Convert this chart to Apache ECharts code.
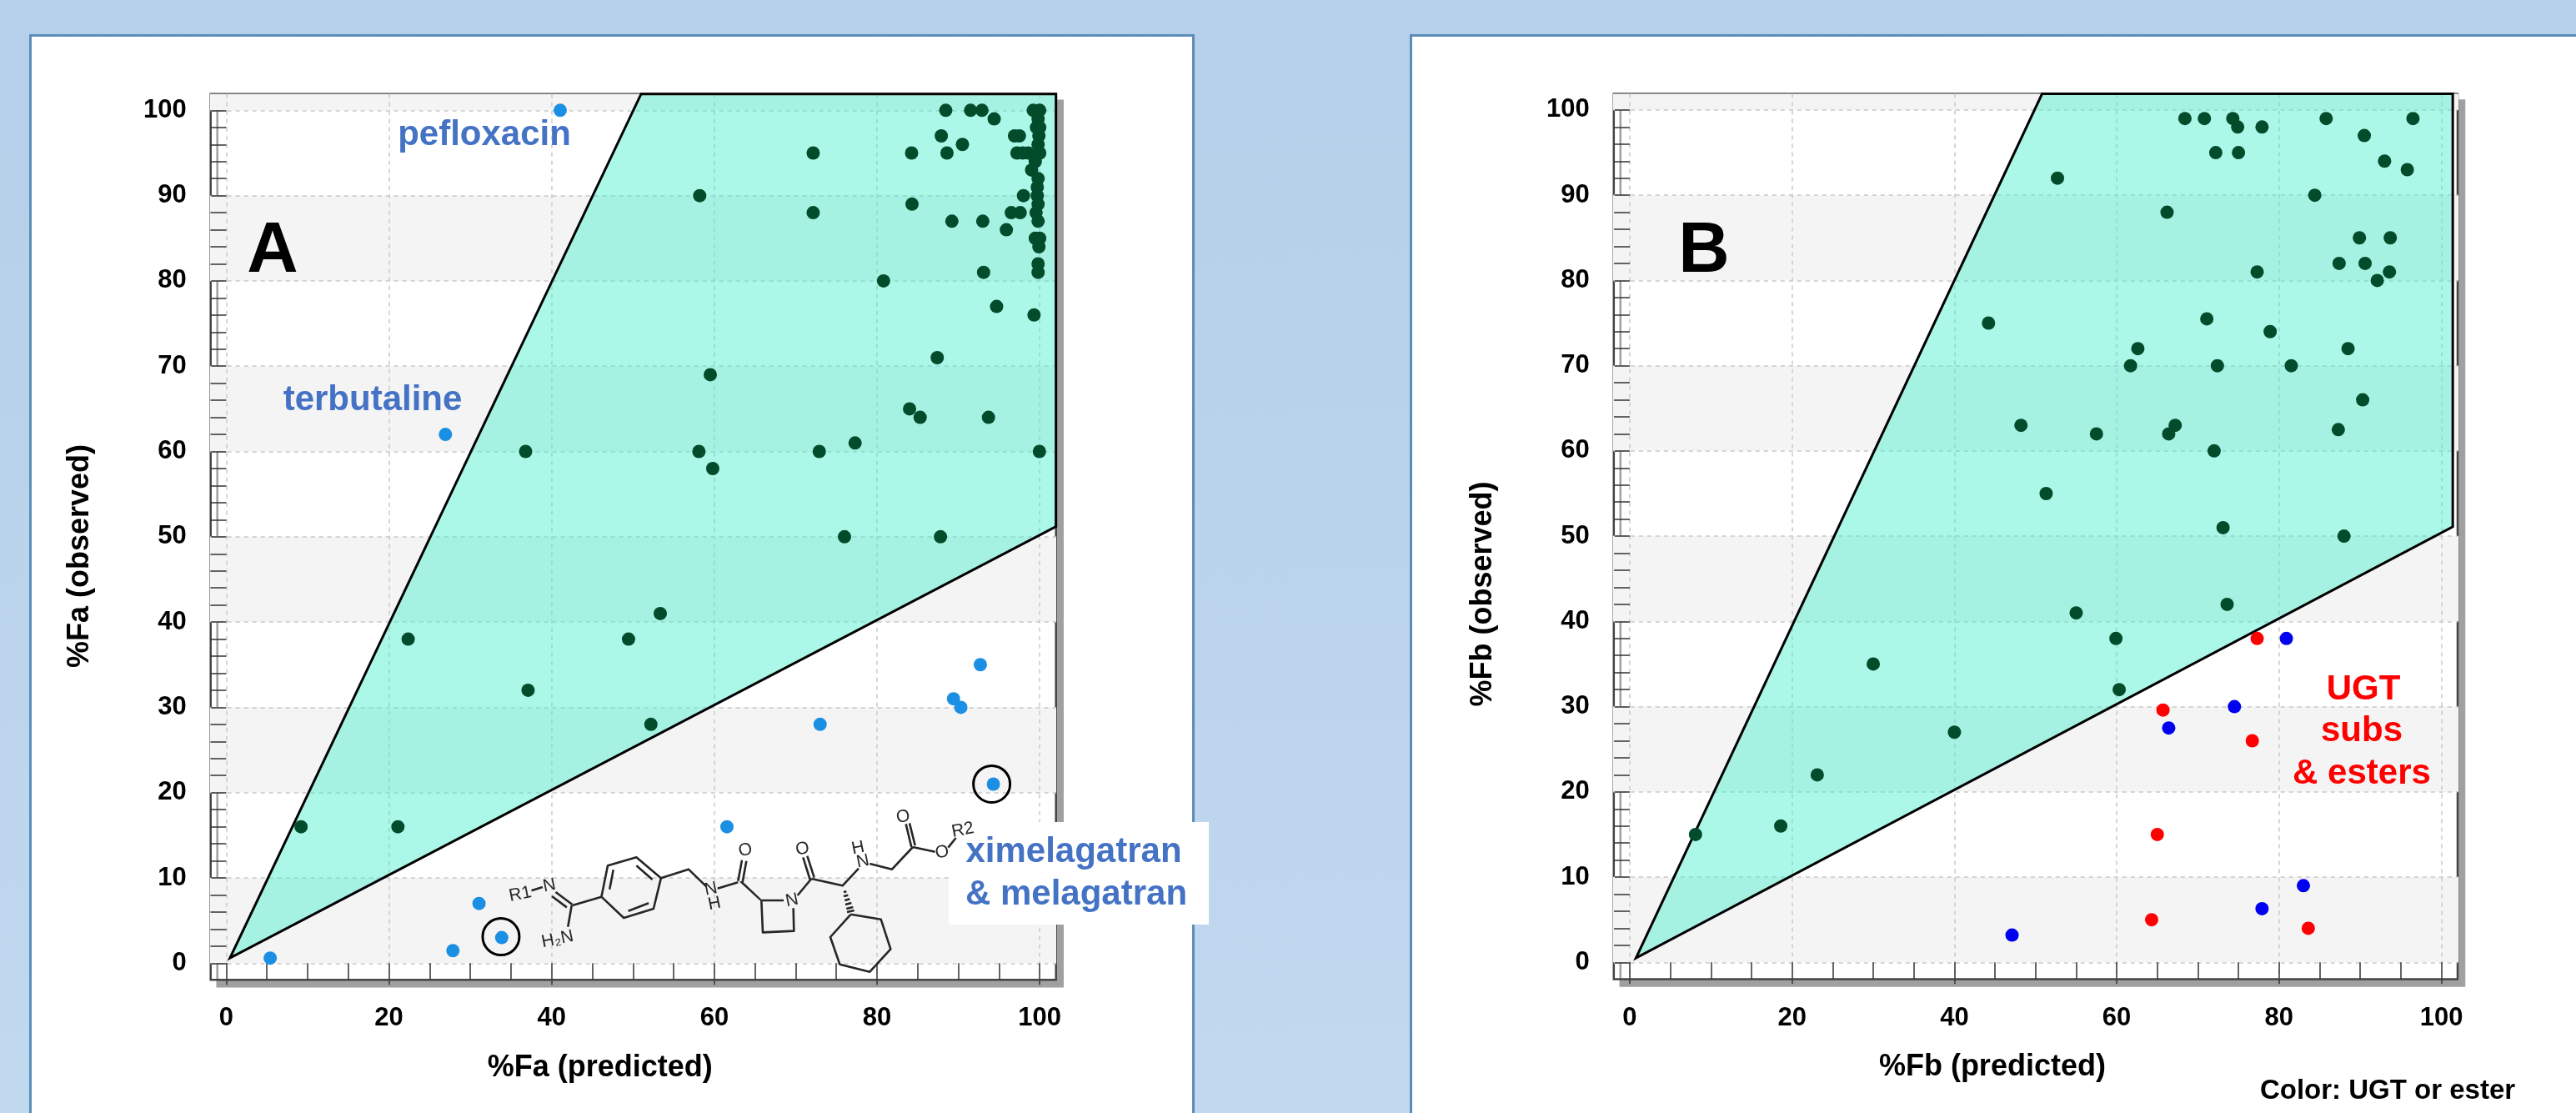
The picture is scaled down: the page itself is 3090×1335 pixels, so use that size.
<!DOCTYPE html>
<html>
<head>
<meta charset="utf-8">
<script src="https://cdn.jsdelivr.net/npm/echarts@6/dist/echarts.min.js"></script>
<style>
html,body{margin:0;padding:0;width:3090px;height:1335px;overflow:hidden;background:linear-gradient(180deg,#b6cfea 0%,#c0d9ef 100%);}
.card{position:absolute;top:41px;height:1400px;background:#fff;border:3px solid #5b8db8;box-sizing:border-box;}
#chart{position:absolute;left:0;top:0;width:3090px;height:1335px;}
</style>
</head>
<body>
<div class="card" style="left:35px;width:1398px;"></div>
<div class="card" style="left:1691px;width:1410px;"></div>
<div id="chart"></div>
<script>
// ---- data ----
const xMajorTicks = [0, 20, 40, 60, 80, 100];
const yMajorTicks = [0, 10, 20, 30, 40, 50, 60, 70, 80, 90, 100];
const xMinorTicks = [5, 10, 15, 25, 30, 35, 45, 50, 55, 65, 70, 75, 85, 90, 95];
const yMinorTicks = [2, 4, 6, 8, 12, 14, 16, 18, 22, 24, 26, 28, 32, 34, 36, 38, 42, 44, 46, 48, 52, 54, 56, 58, 62, 64, 66, 68, 72, 74, 76, 78, 82, 84, 86, 88, 92, 94, 96, 98];
const grayBands = [[0, 10], [20, 30], [40, 50], [60, 70], [80, 90], [100, 102]];

const regionA = [[0.45, 0.6], [51, 101.92], [102, 101.92], [102, 51.2]];
const regionB = [[0.76, 0.5], [50.8, 101.9], [101.4, 101.9], [101.4, 51.1]];

const faWithin = [
  [88.45,100],[91.5,100],[92.9,100],[94.4,99],[87.9,97],[90.5,96],[88.6,95],[84.25,95],
  [96.9,97],[97.5,97],[97.2,95],[97.9,95],[98.6,95],[99.2,100],[100,100],[99.8,99],
  [99.6,98],[100,98],[99.9,97],[99.8,96],[100,95],[99.45,94],[99,93],[99.8,92],
  [99.7,91],[98,90],[99.7,90],[99.8,89],[99.55,88],[97.6,88],[96.5,88],[99.8,87],
  [93,87],[89.2,87],[95.9,86],[84.3,89],[99.45,85],[100,85],[99.9,84],[99.8,82],
  [99.8,81],[93.1,81],[80.8,80],[94.7,77],[99.3,76],[87.4,71],[72.15,95],[72.15,88],
  [58.2,90],[59.5,69],[36.8,60],[58.1,60],[59.8,58],[53.35,41],[49.45,38],[22.36,38],
  [37.1,32],[52.2,28],[84,65],[85.3,64],[93.7,64],[72.9,60],[77.3,61],[99.96,60],
  [76,50],[87.8,50],[9.19,16],[21.1,16]
];
const faOutliers = [
  [41.05,100],[26.94,62],[92.7,35],[89.4,31],[90.3,30],[73,28],[61.55,16],
  [94.3,21],[31.07,7],[33.86,3],[27.86,1.47],[5.4,0.6]
];
const faCircled = [[33.77,3.1],[94.1,21]];

const fbWithin = [
  [68.4,99],[70.8,99],[74.3,99],[74.9,98],[77.9,98],[85.8,99],[96.5,99],[90.5,97],
  [72.2,95],[75,95],[93,94],[95.8,93],[52.7,92],[84.4,90],[66.2,88],[89.9,85],
  [93.7,85],[87.4,82],[90.6,82],[77.3,81],[93.6,81],[92.1,80],[44.2,75],[71.1,75.5],
  [78.9,74],[62.6,72],[88.5,72],[61.7,70],[72.4,70],[81.5,70],[90.3,66],[48.2,63],
  [67.2,63],[57.5,62],[66.4,62],[87.3,62.5],[72,60],[51.3,55],[73.1,51],[88,50],
  [73.6,42],[55,41],[59.9,38],[30,35],[60.3,32],[40,27],[23.1,22],[18.6,16],[8.1,15]
];
const fbUgtEster = [[77.3,38],[65.7,29.6],[76.7,26],[65,15],[64.3,5],[83.6,4]];
const fbOther = [[80.9,38],[74.5,30],[66.4,27.5],[83,9],[77.9,6.3],[47.1,3.2]];

// ---- styles ----
const FONT = '"Liberation Sans", Arial, sans-serif';
const DARK = '#024c2b', SKY = '#1b8fe3', BLUE = '#0000f0', RED = '#ff0000', LABEL = '#4472c4';

function majorX(gridIndex, min, max, name, shift) {
  return {
    type: 'value', gridIndex, min, max, z: 2, name, nameLocation: 'middle', nameGap: 88,
    nameTextStyle: { fontFamily: FONT, fontWeight: 'bold', fontSize: 36, color: '#000', padding: [0, shift, 0, 0] },
    axisLine: { show: false },
    axisTick: { show: true, length: 26, lineStyle: { color: '#333', width: 1.5 }, customValues: xMajorTicks },
    axisLabel: { show: true, customValues: xMajorTicks, margin: 31, fontFamily: FONT, fontWeight: 'bold', fontSize: 31, color: '#000', formatter: v => String(v) },
    splitLine: { show: true, lineStyle: { color: '#c9c9c9', width: 1.5, type: [5, 5] } }
  };
}
function majorY(gridIndex, min, max, name, shift) {
  return {
    type: 'value', gridIndex, min, max, z: 2, name, nameLocation: 'middle', nameGap: 139,
    nameTextStyle: { fontFamily: FONT, fontWeight: 'bold', fontSize: 36, color: '#000', padding: [0, shift, 0, 0] },
    axisLine: { show: false },
    axisTick: { show: true, length: 18, lineStyle: { color: '#333', width: 1.5 }, customValues: yMajorTicks },
    axisLabel: { show: true, customValues: yMajorTicks, margin: 29, fontFamily: FONT, fontWeight: 'bold', fontSize: 31, color: '#000', formatter: v => String(v) },
    splitLine: { show: true, lineStyle: { color: '#c9c9c9', width: 1.5, type: [5, 5] } }
  };
}
function minorAxis(type, gridIndex, min, max, values, len) {
  return {
    type: 'value', gridIndex, min, max, z: 2,
    axisLine: { show: false },
    axisTick: { show: true, inside: true, length: len, lineStyle: { color: '#333', width: 1.5 }, customValues: values },
    axisLabel: { show: false }, splitLine: { show: false }
  };
}
function bandSeries(i) {
  return {
    type: 'custom', xAxisIndex: i, yAxisIndex: i, z: 1, silent: true, data: grayBands, clip: true,
    renderItem(p, api) {
      const x0 = api.coord([-5, api.value(0)]), x1 = api.coord([110, api.value(1)]);
      return { type: 'rect', shape: { x: x0[0], y: x1[1], width: x1[0] - x0[0], height: x0[1] - x1[1] }, style: { fill: '#f4f4f4' } };
    }
  };
}
function regionSeries(i, verts) {
  return {
    type: 'custom', xAxisIndex: i, yAxisIndex: i, z: 3, silent: true, clip: false, data: [verts[0]],
    renderItem(p, api) {
      return { type: 'polygon', shape: { points: verts.map(v => api.coord(v)) },
        style: { fill: 'rgba(68,240,206,0.45)', stroke: '#000', lineWidth: 3, lineJoin: 'miter' } };
    }
  };
}
function pts(i, data, color) {
  return { type: 'scatter', xAxisIndex: i, yAxisIndex: i, z: 5, silent: true, symbolSize: 16, data, clip: false, itemStyle: { color, opacity: 1 } };
}

// ---- annotation drawing (the structure inset and texts) ----
const Z4 = (x, y) => [200 + x / 2.24, 900 + y / 3];
const Z10 = (x, y) => [800 + x / 3, 900 + y / 3];
const bondsZ4 = [
  [[980,505],[1010,492]], [[1045,510],[1090,555]], [[1035,525],[1075,565]],
  [[1088,558],[1078,635]], [[1090,558],[1168,527]],
  [[1168,527],[1185,415],[1262,385],[1328,460],[1308,570],[1228,603],[1168,527]],
  [[1190,500],[1200,430]], [[1262,415],[1305,465]], [[1295,550],[1240,578]],
  [[1328,460],[1402,428],[1450,490]], [[1480,497],[1535,475]]
];
const bondsZ10 = [
  [[256,470],[270,395]], [[272,475],[286,398]],
  [[420,540],[340,540],[345,655],[457,650],[455,568]],
  [[470,522],[520,462]], [[515,465],[490,385]], [[530,458],[505,380]],
  [[520,462],[632,487],[690,425]], [[730,408],[810,428],[885,348]],
  [[880,348],[860,265]], [[893,342],[873,262]], [[885,348],[965,365]], [[1012,350],[1040,315]],
  [[662,590],[770,608],[805,715],[730,797],[622,770],[588,672],[662,590]],
  [[636,510],[646,508]], [[636,525],[652,521]], [[640,540],[658,535]], [[642,555],[664,549]], [[646,570],[670,564]], [[648,582],[674,576]]
];
const atoms = [
  ['R1', Z4(950,518)], ['N', Z4(1028,487)], ['H\u2082N', Z4(1050,680)], ['N', Z4(1462,500)], ['H', Z4(1472,552)],
  ['O', Z10(282,360)], ['N', Z10(450,540)], ['O', Z10(488,355)], ['N', Z10(705,400)], ['H', Z10(688,352)],
  ['O', Z10(850,240)], ['O', Z10(990,367)], ['R2', Z10(1065,287)]
];
const lineEl = pts => ({ type: 'polyline', z: 20, shape: { points: pts }, style: { stroke: '#262626', lineWidth: 2.6, fill: null, lineJoin: 'round' } });
const textEl = (text, x, y, size, fill, z) => ({ type: 'text', z: z || 30, x, y, style: { text, fill, align: 'center', verticalAlign: 'middle', font: 'bold ' + size + 'px ' + FONT } });

const graphic = [
  { type: 'rect', z: 15, shape: { x: 1138, y: 986, width: 312, height: 123 }, style: { fill: '#fff' } },
  ...bondsZ4.map(b => lineEl(b.map(p => Z4(p[0], p[1])))),
  ...bondsZ10.map(b => lineEl(b.map(p => Z10(p[0], p[1])))),
  { type: 'polygon', z: 20, shape: { points: [Z10(260,472), Z10(272,472), Z10(340,536), Z10(334,540)] }, style: { fill: '#262626' } },
  ...atoms.map(a => ({ type: 'text', z: 21, x: a[1][0], y: a[1][1], rotation: 0.2, style: { text: a[0], fill: '#262626', align: 'center', verticalAlign: 'middle', font: '21px ' + FONT } })),
  textEl('A', 327, 303, 85, '#000'),
  textEl('B', 2044, 303, 85, '#000'),
  textEl('pefloxacin', 581, 162, 42, LABEL),
  textEl('terbutaline', 447, 480, 42, LABEL),
  textEl('ximelagatran', 1288, 1022, 42, LABEL),
  textEl('& melagatran', 1291, 1073, 42, LABEL),
  textEl('UGT', 2835, 827, 42, RED),
  textEl('subs', 2833, 877, 42, RED),
  textEl('& esters', 2833, 928, 42, RED),
  textEl('Color: UGT or ester', 2864, 1309, 33, '#000')
];

const gridBase = { show: true, backgroundColor: '#fff', borderColor: '#444', borderWidth: 2.5,
  shadowColor: '#a0a0a0', shadowBlur: 0, shadowOffsetX: 8, shadowOffsetY: 8, containLabel: false };

const chart = echarts.init(document.getElementById('chart'), null, { renderer: 'canvas', width: 3090, height: 1335 });
chart.setOption({
  animation: false,
  backgroundColor: 'transparent',
  grid: [
    { ...gridBase, left: 252.7, top: 112.7, width: 1014, height: 1062.6 },
    { ...gridBase, left: 1935.8, top: 112.5, width: 1012.2, height: 1062 }
  ],
  xAxis: [
    majorX(0, -1.92, 102, '%Fa (predicted)', 80),
    majorX(1, -1.97, 102, '%Fb (predicted)', 104),
    minorAxis('x', 0, -1.92, 102, xMinorTicks, 20),
    minorAxis('x', 1, -1.97, 102, xMinorTicks, 20)
  ],
  yAxis: [
    majorY(0, -1.955, 101.92, '%Fa (observed)', 46),
    majorY(1, -1.976, 101.9, '%Fb (observed)', 138),
    minorAxis('y', 0, -1.955, 101.92, yMinorTicks, 19),
    minorAxis('y', 1, -1.976, 101.9, yMinorTicks, 19)
  ],
  series: [
    bandSeries(0), bandSeries(1),
    regionSeries(0, regionA), regionSeries(1, regionB),
    pts(0, faWithin, DARK), pts(0, faOutliers, SKY),
    { type: 'scatter', xAxisIndex: 0, yAxisIndex: 0, z: 6, silent: true, symbolSize: 44, data: faCircled,
      itemStyle: { color: 'rgba(0,0,0,0)', borderColor: '#000', borderWidth: 3, opacity: 1 } },
    pts(1, fbWithin, DARK), pts(1, fbUgtEster, RED), pts(1, fbOther, BLUE)
  ],
  graphic
});
</script>
</body>
</html>
